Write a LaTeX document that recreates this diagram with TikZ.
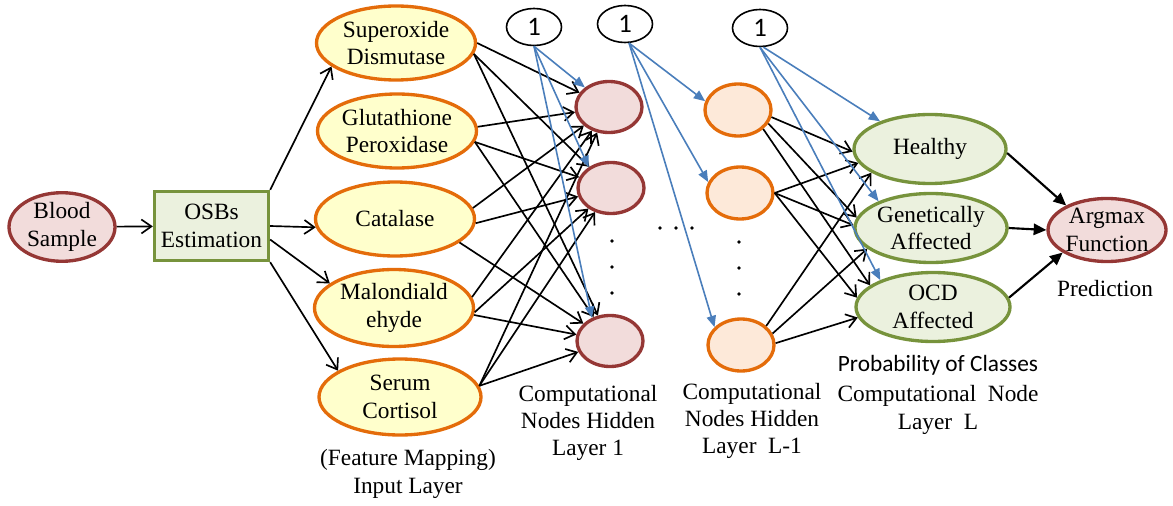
\documentclass[tikz,border=0pt]{standalone}
\usepackage{fontspec}
\setmainfont{Liberation Serif}
\newfontfamily\calibri{Carlito}
\usetikzlibrary{shapes.geometric,arrows.meta}
\definecolor{pinkfill}{HTML}{F2DCDB}
\definecolor{darkred}{HTML}{953735}
\definecolor{yellowfill}{HTML}{FFFFCC}
\definecolor{orangeline}{HTML}{E46C0A}
\definecolor{peachfill}{HTML}{FDE9D9}
\definecolor{greenfill}{HTML}{EBF1DE}
\definecolor{greenline}{HTML}{77933C}
\definecolor{biasblue}{HTML}{4A7EBB}
\begin{document}
\begin{tikzpicture}[x=0.75pt,y=-0.75pt,
  txt/.style={font=\fontsize{17.5}{20.5}\selectfont, align=center},
  oval/.style n args={2}{ellipse, inner sep=0pt, line width=2.5pt, txt,
    minimum width={#1*0.75pt}, minimum height={#2*0.75pt}},
  sample/.style={oval={106}{66}, draw=darkred, fill=pinkfill},
  estim/.style={rectangle, inner sep=0pt, line width=2.5pt, txt,
    draw=greenline, fill=greenfill, minimum width=85.5pt, minimum height=51.75pt},
  feature/.style={oval={159}{74}, draw=orangeline, fill=yellowfill},
  hidone/.style={oval={66}{51}, draw=darkred, fill=pinkfill},
  hidlast/.style={oval={66}{52}, draw=orangeline, fill=peachfill},
  classnode/.style={oval={152}{69}, draw=greenline, fill=greenfill},
  argnode/.style={oval={118}{63}, draw=darkred, fill=pinkfill},
  bias/.style={ellipse, inner sep=0pt, draw=black, fill=white, line width=1.2pt,
    minimum width=41.25pt, minimum height=27.75pt, font=\calibri\fontsize{20}{22}\selectfont},
  caption/.style={txt},
  bk/.style={draw=black, line width=1.25pt, -{Straight Barb[length=7.5pt,width=10.5pt]}},
  bl/.style={draw=biasblue, line width=1.2pt, -{Triangle[length=8.5pt,width=7pt]}},
  outarrow/.style={draw=black, line width=1.6pt, -{Triangle[length=9.5pt,width=8.5pt]}},
  dot/.style={fill=black}
]
\useasboundingbox (0,0) rectangle (1173,506);

% source and estimation
\node[sample] (blood) at (62,227) {Blood\\Sample};
\node[estim] (osb) at (211.5,226) {OSBs\\Estimation};

% input layer (features)
\node[feature] (sod) at (396,43) {Superoxide\\Dismutase};
\node[feature] (gpx) at (397,131) {Glutathione\\Peroxidase};
\node[feature] (cat) at (395,219) {Catalase};
\node[feature, minimum height=57.75pt] (mda) at (394,308) {Malondiald\\ehyde};
\node[feature, minimum width=121.5pt, minimum height=57pt] (cor) at (400,397) {Serum\\Cortisol};

% hidden layer 1
\node[hidone] (ha) at (609,107) {};
\node[hidone] (hb) at (611,188) {};
\node[hidone] (hc) at (610,341) {};

% hidden layer L-1
\node[hidlast] (la) at (738,110) {};
\node[hidlast] (lb) at (740,193) {};
\node[hidlast] (lc) at (741,345) {};

% output layer
\node[classnode] (healthy) at (930,149) {Healthy};
\node[classnode] (genetic) at (931,228) {Genetically\\Affected};
\node[classnode, minimum width=115.5pt] (ocd) at (933,307) {OCD\\Affected};
\node[argnode] (argmax) at (1107,230) {Argmax\\Function};

% bias units
\node[bias] (ba) at (534,27) {1};
\node[bias] (bb) at (625,24) {1};
\node[bias] (bc) at (760,28) {1};

% pipeline arrows
\draw[bk] (blood) -- (osb);
\draw[bk] (osb.north east) -- (sod.200);
\draw[bk] (osb.east) -- (cat.186);
\draw[bk] (osb.-13) -- (mda.159);
\draw[bk] (osb.south east) -- (cor.157);

% input -> hidden layer 1
\draw[bk] (sod.east) -- (ha);
\draw[bk] (sod.-8) -- (hb);
\draw[bk] (sod.-8) -- (hc);
\draw[bk] (gpx.3) -- (ha);
\draw[bk] (gpx.-8) -- (hb);
\draw[bk] (gpx.-8) -- (hc);
\draw[bk] (cat.8) -- (ha);
\draw[bk] (cat.-3) -- (hb);
\draw[bk] (cat.-20) -- (hc);
\draw[bk] (mda.8) -- (ha);
\draw[bk] (mda.-3) -- (hb);
\draw[bk] (mda.-5) -- (hc);
\draw[bk] (cor.8) -- (ha);
\draw[bk] (cor.8) -- (hb);
\draw[bk] (cor.8) -- (hc);

% hidden layer L-1 -> output
\draw[bk] (la.-12) -- (healthy.182);
\draw[bk] (la.-24) -- (genetic.172);
\draw[bk] (la.-37) -- (ocd.161);
\draw[bk] (lb.east) -- (healthy.191);
\draw[bk] (lb.east) -- (genetic.178);
\draw[bk] (lb.east) -- (ocd.173);
\draw[bk] (lc.37) -- (healthy.202);
\draw[bk] (lc.20) -- (genetic.198);
\draw[bk] (lc.3) -- (ocd.188);

% bias connections
\draw[bl] (ba.south) -- (ha.141);
\draw[bl] (ba.south) -- (hb.137);
\draw[bl] (ba.south) -- (hc.128);
\draw[bl] (bb.-78) -- (la.165);
\draw[bl] (bb.-78) -- (lb.161);
\draw[bl] (bb.-78) -- (lc.146);
\draw[bl] (bc.-80) -- (healthy.151);
\draw[bl] (bc.south) -- (genetic.153);
\draw[bl] (bc.south) -- (ocd.153);

% output -> argmax
\draw[outarrow] (healthy.-3) -- (argmax.149);
\draw[outarrow] (genetic.east) -- (argmax.west);
\draw[outarrow] (ocd.7) -- (argmax.207);

% ellipsis dots
\foreach \yy in {241,267,293} {
  \fill[dot] (612,\yy) circle[radius=1.4pt];
  \fill[dot] (739,\yy+1) circle[radius=1.4pt];
}
\foreach \xx in {660,676,692} \fill[dot] (\xx,228) circle[radius=1.4pt];

% layer captions
\node[caption] (capin) at (408,474) {(Feature Mapping)\\Input Layer};
\node[caption] (caphone) at (588,423) {Computational\\Nodes Hidden\\Layer 1};
\node[caption] (caphlast) at (752,421) {Computational\\Nodes Hidden\\Layer\enspace L-1};
\node[caption, font=\calibri\fontsize{17.5}{20.5}\selectfont] (capprob) at (938,365) {Probability of Classes};
\node[caption] (capout) at (938,410) {Computational\enspace Node\\Layer\enspace L};
\node[caption] (cappred) at (1105,289) {Prediction};
\end{tikzpicture}
\end{document}
